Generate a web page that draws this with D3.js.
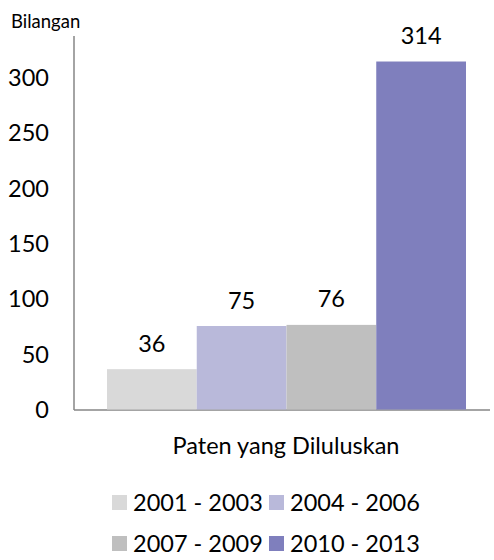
<!DOCTYPE html>
<html><head><meta charset="utf-8">
<script src="https://cdn.jsdelivr.net/npm/d3@7"></script>
<style>body{margin:0;background:#fff}svg{display:block}text{font-family:Lato,"Open Sans",sans-serif;fill:#000}</style>
</head><body>
<script>
const series = ["2001 - 2003","2004 - 2006","2007 - 2009","2010 - 2013"];
const values = [36,75,76,314];
const colors = ["#d9d9d9","#b9b9da","#bfbfbf","#7f7fbd"];
const category = "Paten yang Diluluskan";
const yTicks = [0,50,100,150,200,250,300];
const yTitle = "Bilangan";

const W=494,H=560;
const svg=d3.select("body").append("svg").attr("width",W).attr("height",H);
const x0=74, x1=490, yBase=409;
const y=d3.scaleLinear().domain([0,300]).range([yBase,77]);
const yTop=36;
const x=d3.scaleBand().domain(series).range([107,466]).padding(0);
const FS="23.5px";

svg.append("line").attr("x1",x0).attr("x2",x0).attr("y1",yTop).attr("y2",yBase+1).attr("stroke","#868686").attr("stroke-width",1.5);
svg.append("line").attr("x1",x0).attr("x2",x1).attr("y1",yBase+1).attr("y2",yBase+1).attr("stroke","#868686").attr("stroke-width",1.5);

const ax=d3.axisLeft(y).tickValues(yTicks).tickSize(0).tickPadding(0);
const g=svg.append("g").attr("transform","translate(49,0)").call(ax);
g.select(".domain").remove();
g.selectAll("text").style("font-size",FS).style("font-family","Lato,'Open Sans',sans-serif").attr("fill","#000").attr("dy","0.36em");

svg.append("text").attr("x",11).attr("y",28).style("font-size","18.5px").text(yTitle);

svg.selectAll("rect.bar").data(values).enter().append("rect")
 .attr("x",(d,i)=>x(series[i])).attr("width",x.bandwidth())
 .attr("y",d=>y(d)).attr("height",d=>yBase+0.5-y(d)).attr("fill",(d,i)=>colors[i]);
svg.selectAll("text.lbl").data(values).enter().append("text")
 .attr("x",(d,i)=>x(series[i])+x.bandwidth()/2).attr("y",d=>y(d)-17.5)
 .attr("text-anchor","middle").style("font-size",FS).text(d=>d);

svg.append("text").attr("x",286).attr("y",454).attr("text-anchor","middle").style("font-size",FS).text(category);

const legPos=[[112,502],[269,502],[112,543],[269,543]];
series.forEach((s,i)=>{
  const [lx,ly]=legPos[i];
  svg.append("rect").attr("x",lx).attr("y",ly-7).attr("width",15).attr("height",15).attr("fill",colors[i]);
  svg.append("text").attr("x",lx+21).attr("y",ly+8.5).style("font-size",FS).text(s);
});
</script>
</body></html>
